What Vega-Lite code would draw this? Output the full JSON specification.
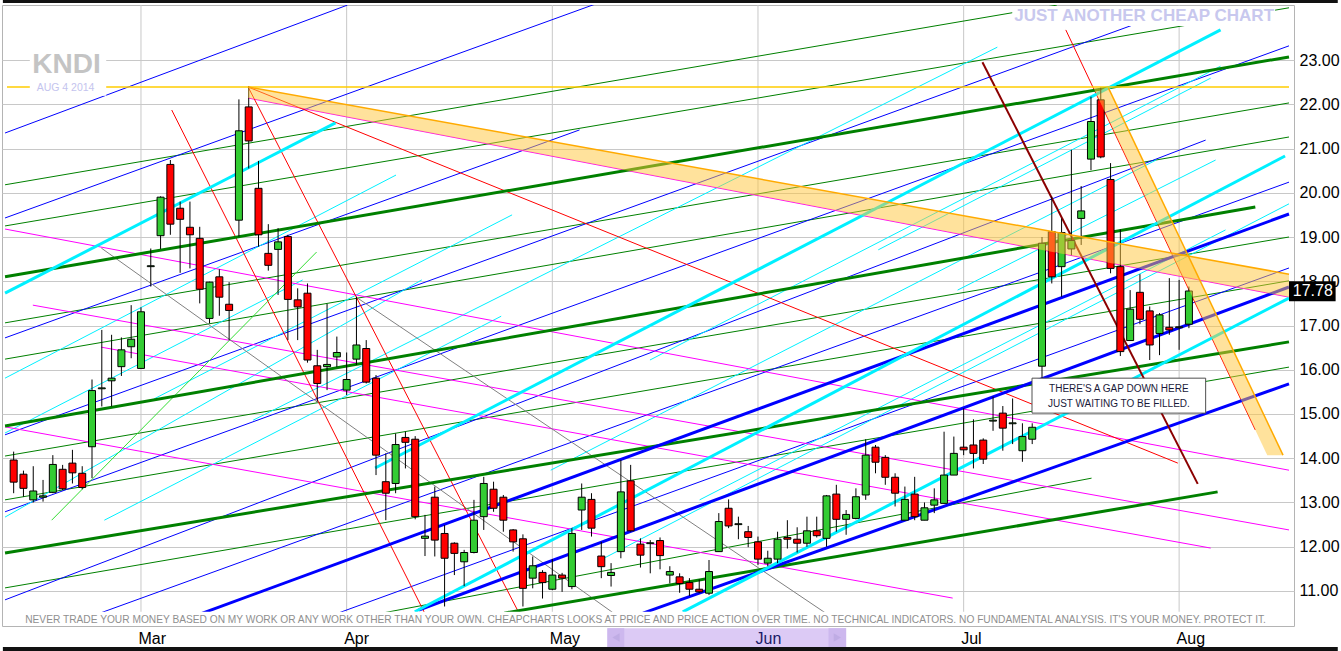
{
"$schema": "https://vega.github.io/schema/vega-lite/v6.json",
"width": 1292, "height": 621,
"autosize": {"type": "none"},
"padding": {"left": 2, "top": 5, "right": 47, "bottom": 25},
"background": "white",
"config": {"view": {"stroke": "#b4b4b4"}, "font": "Liberation Sans"},
"datasets": {
"candles": [
{"i":0,"o":13.96,"h":14.15,"l":13.21,"c":13.46},{"i":1,"o":13.64,"h":13.72,"l":13.13,"c":13.32},{"i":2,"o":13.06,"h":13.82,"l":13.0,"c":13.26},{"i":3,"o":13.12,"h":13.51,"l":13.02,"c":13.15},{"i":4,"o":13.23,"h":14.07,"l":13.21,"c":13.86},{"i":5,"o":13.75,"h":13.85,"l":13.28,"c":13.31},{"i":6,"o":13.89,"h":14.19,"l":13.43,"c":13.67},{"i":7,"o":13.66,"h":13.82,"l":13.3,"c":13.34},{"i":8,"o":14.26,"h":15.78,"l":13.55,"c":15.53},{"i":9,"o":15.57,"h":16.9,"l":15.17,"c":15.59},
{"i":10,"o":15.75,"h":16.79,"l":15.17,"c":15.81},{"i":11,"o":16.07,"h":16.73,"l":15.86,"c":16.45},{"i":12,"o":16.52,"h":17.46,"l":16.26,"c":16.69},{"i":13,"o":16.03,"h":17.41,"l":16.03,"c":17.31},{"i":14,"o":18.33,"h":18.74,"l":17.88,"c":18.35},{"i":15,"o":19.03,"h":19.92,"l":18.73,"c":19.9},{"i":16,"o":20.64,"h":20.74,"l":19.05,"c":19.29},{"i":17,"o":19.65,"h":19.8,"l":18.19,"c":19.4},{"i":18,"o":19.22,"h":19.8,"l":18.29,"c":19.05},{"i":19,"o":18.97,"h":19.23,"l":17.5,"c":17.82},
{"i":20,"o":17.16,"h":17.99,"l":17.05,"c":17.98},{"i":21,"o":18.1,"h":18.27,"l":17.22,"c":17.64},{"i":22,"o":17.48,"h":17.98,"l":16.67,"c":17.34},{"i":23,"o":19.38,"h":22.11,"l":19.01,"c":21.4},{"i":24,"o":21.94,"h":22.4,"l":20.55,"c":21.17},{"i":25,"o":20.1,"h":20.72,"l":18.78,"c":19.05},{"i":26,"o":18.63,"h":19.29,"l":18.24,"c":18.36},{"i":27,"o":18.72,"h":19.2,"l":17.69,"c":18.89},{"i":28,"o":19.01,"h":19.05,"l":16.67,"c":17.59},{"i":29,"o":17.58,"h":17.84,"l":16.67,"c":17.42},
{"i":30,"o":17.73,"h":17.95,"l":16.16,"c":16.22},{"i":31,"o":16.09,"h":16.45,"l":15.28,"c":15.69},{"i":32,"o":16.07,"h":17.49,"l":15.54,"c":16.12},{"i":33,"o":16.29,"h":16.75,"l":16.06,"c":16.39},{"i":34,"o":15.54,"h":16.39,"l":15.43,"c":15.78},{"i":35,"o":16.24,"h":17.65,"l":16.11,"c":16.56},{"i":36,"o":16.48,"h":16.67,"l":15.69,"c":15.72},{"i":37,"o":15.81,"h":15.88,"l":13.62,"c":14.07},{"i":38,"o":13.47,"h":14.11,"l":12.6,"c":13.21},{"i":39,"o":13.43,"h":14.56,"l":13.21,"c":14.31},
{"i":40,"o":14.47,"h":14.6,"l":13.77,"c":14.36},{"i":41,"o":14.43,"h":14.5,"l":12.62,"c":12.68},{"i":42,"o":12.19,"h":12.72,"l":11.79,"c":12.24},{"i":43,"o":13.12,"h":13.36,"l":11.78,"c":12.15},{"i":44,"o":12.3,"h":12.49,"l":10.65,"c":11.74},{"i":45,"o":12.08,"h":12.1,"l":11.36,"c":11.85},{"i":46,"o":11.66,"h":11.93,"l":11.11,"c":11.87},{"i":47,"o":11.87,"h":13.06,"l":11.85,"c":12.6},{"i":48,"o":12.68,"h":13.58,"l":12.38,"c":13.43},{"i":49,"o":13.3,"h":13.47,"l":12.79,"c":12.87},
{"i":50,"o":13.12,"h":13.17,"l":12.34,"c":12.6},{"i":51,"o":12.38,"h":12.4,"l":11.89,"c":12.11},{"i":52,"o":12.18,"h":12.28,"l":10.65,"c":11.06},{"i":53,"o":11.29,"h":11.78,"l":11.06,"c":11.57},{"i":54,"o":11.42,"h":11.47,"l":10.83,"c":11.19},{"i":55,"o":11.04,"h":11.72,"l":11.02,"c":11.36},{"i":56,"o":11.36,"h":11.41,"l":10.98,"c":11.29},{"i":57,"o":11.1,"h":12.42,"l":11.04,"c":12.3},{"i":58,"o":12.83,"h":13.43,"l":12.38,"c":13.12},{"i":59,"o":13.07,"h":13.21,"l":12.23,"c":12.42},
{"i":60,"o":11.79,"h":12.11,"l":11.29,"c":11.55},{"i":61,"o":11.35,"h":11.63,"l":11.1,"c":11.42},{"i":62,"o":11.89,"h":13.96,"l":11.74,"c":13.24},{"i":63,"o":13.49,"h":13.85,"l":12.34,"c":12.36},{"i":64,"o":12.06,"h":12.19,"l":11.53,"c":11.81},{"i":65,"o":12.07,"h":12.15,"l":11.4,"c":12.09},{"i":66,"o":12.14,"h":12.21,"l":11.49,"c":11.8},{"i":67,"o":11.36,"h":11.56,"l":11.17,"c":11.44},{"i":68,"o":11.32,"h":11.4,"l":10.96,"c":11.17},{"i":69,"o":11.19,"h":11.29,"l":10.89,"c":11.04},
{"i":70,"o":11.04,"h":11.26,"l":10.95,"c":10.98},{"i":71,"o":10.95,"h":11.7,"l":10.91,"c":11.44},{"i":72,"o":11.89,"h":12.76,"l":11.89,"c":12.57},{"i":73,"o":12.87,"h":13.07,"l":12.42,"c":12.47},{"i":74,"o":12.5,"h":12.68,"l":12.17,"c":12.52},{"i":75,"o":12.34,"h":12.47,"l":11.99,"c":12.21},{"i":76,"o":12.11,"h":12.23,"l":11.59,"c":11.72},{"i":77,"o":11.63,"h":11.91,"l":11.56,"c":11.74},{"i":78,"o":11.72,"h":12.34,"l":11.63,"c":12.17},{"i":79,"o":12.21,"h":12.6,"l":11.96,"c":12.17},
{"i":80,"o":12.17,"h":12.44,"l":11.87,"c":12.08},{"i":81,"o":12.08,"h":12.68,"l":12.0,"c":12.36},{"i":82,"o":12.36,"h":12.68,"l":12.21,"c":12.25},{"i":83,"o":12.19,"h":13.17,"l":12.0,"c":13.15},{"i":84,"o":13.19,"h":13.4,"l":12.34,"c":12.62},{"i":85,"o":12.62,"h":12.83,"l":12.27,"c":12.73},{"i":86,"o":12.64,"h":13.32,"l":12.62,"c":13.13},{"i":87,"o":13.17,"h":14.43,"l":13.06,"c":14.07},{"i":88,"o":14.25,"h":14.3,"l":13.66,"c":13.91},{"i":89,"o":14.02,"h":14.07,"l":13.4,"c":13.57},
{"i":90,"o":13.57,"h":13.66,"l":12.91,"c":13.21},{"i":91,"o":12.6,"h":13.36,"l":12.6,"c":13.07},{"i":92,"o":13.19,"h":13.58,"l":12.6,"c":12.68},{"i":93,"o":12.6,"h":13.0,"l":12.6,"c":12.88},{"i":94,"o":12.94,"h":13.32,"l":12.76,"c":13.06},{"i":95,"o":12.98,"h":14.6,"l":12.98,"c":13.62},{"i":96,"o":13.62,"h":14.49,"l":13.62,"c":14.11},{"i":97,"o":14.25,"h":15.13,"l":14.07,"c":14.19},{"i":98,"o":14.3,"h":14.88,"l":13.77,"c":14.11},{"i":99,"o":14.41,"h":14.45,"l":13.87,"c":13.98},
{"i":100,"o":14.84,"h":15.39,"l":14.62,"c":14.86},{"i":101,"o":15.02,"h":15.18,"l":14.17,"c":14.68},{"i":102,"o":14.78,"h":15.35,"l":14.32,"c":14.8},{"i":103,"o":14.17,"h":14.79,"l":13.92,"c":14.49},{"i":104,"o":14.43,"h":14.79,"l":14.32,"c":14.7},{"i":105,"o":16.08,"h":19.0,"l":15.81,"c":18.86},{"i":106,"o":19.12,"h":19.91,"l":17.95,"c":18.1},{"i":107,"o":18.33,"h":19.42,"l":17.65,"c":19.1},{"i":108,"o":18.73,"h":20.97,"l":18.59,"c":18.92},{"i":109,"o":19.42,"h":20.15,"l":18.82,"c":19.59},
{"i":110,"o":20.76,"h":22.17,"l":20.51,"c":21.61},{"i":111,"o":22.1,"h":22.37,"l":20.78,"c":20.81},{"i":112,"o":20.3,"h":20.67,"l":18.18,"c":18.29},{"i":113,"o":18.33,"h":19.17,"l":16.31,"c":16.41},{"i":114,"o":16.66,"h":17.8,"l":16.66,"c":17.37},{"i":115,"o":17.75,"h":18.16,"l":17.03,"c":17.14},{"i":116,"o":17.33,"h":17.43,"l":16.22,"c":16.56},{"i":117,"o":16.82,"h":17.28,"l":16.33,"c":17.24},{"i":118,"o":16.96,"h":18.07,"l":16.79,"c":16.9},{"i":119,"o":16.95,"h":18.03,"l":16.45,"c":16.97},
{"i":120,"o":17.03,"h":17.88,"l":16.94,"c":17.78}
],
"months": [{"m":13},{"m":34},{"m":55},{"m":76},{"m":97},{"m":119}],
"thinGreen": [
{"x1":-0.88,"y1":20.18,"x2":106.51,"y2":24.24},{"x1":-0.88,"y1":19.25,"x2":130.22,"y2":24.18},{"x1":-0.88,"y1":17.06,"x2":130.22,"y2":22.03},{"x1":-0.88,"y1":16.24,"x2":130.22,"y2":21.26},{"x1":-0.88,"y1":14.05,"x2":130.22,"y2":19.0},{"x1":-0.88,"y1":13.06,"x2":130.22,"y2":18.01},{"x1":-0.88,"y1":11.07,"x2":130.22,"y2":16.06},{"x1":37.62,"y1":10.5,"x2":110.06,"y2":13.55}],
"thickGreen": [
{"x1":-0.88,"y1":18.1,"x2":130.22,"y2":23.07},{"x1":-0.88,"y1":14.73,"x2":126.78,"y2":19.68},{"x1":-0.88,"y1":11.86,"x2":130.22,"y2":16.63},{"x1":50.08,"y1":10.5,"x2":122.93,"y2":13.24}],
"thinBlue": [
{"x1":-0.88,"y1":21.35,"x2":34.07,"y2":24.24},{"x1":-0.88,"y1":19.43,"x2":59.71,"y2":24.29},{"x1":-0.88,"y1":16.72,"x2":57.78,"y2":21.42},{"x1":-0.88,"y1":14.53,"x2":115.63,"y2":23.9},{"x1":-0.88,"y1":12.79,"x2":130.22,"y2":23.32},{"x1":-0.88,"y1":10.8,"x2":121.71,"y2":21.19},{"x1":5.2,"y1":10.21,"x2":130.22,"y2":20.24},{"x1":29.51,"y1":10.21,"x2":130.22,"y2":18.3}],
"thickBlue": [
{"x1":15.73,"y1":10.21,"x2":130.22,"y2":19.52},{"x1":41.37,"y1":10.57,"x2":130.22,"y2":17.87},{"x1":64.26,"y1":10.5,"x2":130.22,"y2":15.68}],
"thinCyan": [
{"x1":-0.88,"y1":15.81,"x2":39.04,"y2":20.4},{"x1":-0.88,"y1":14.57,"x2":29.51,"y2":18.03},{"x1":14.32,"y1":15.34,"x2":50.89,"y2":19.5},{"x1":24.45,"y1":14.86,"x2":100.44,"y2":23.29},{"x1":59.91,"y1":11.7,"x2":130.22,"y2":19.75},{"x1":54.84,"y1":13.73,"x2":116.65,"y2":20.74},{"x1":70.04,"y1":13.06,"x2":123.74,"y2":19.16},{"x1":96.38,"y1":17.8,"x2":122.73,"y2":20.74},{"x1":-0.88,"y1":12.67,"x2":41.67,"y2":18.03},{"x1":9.26,"y1":12.6,"x2":49.78,"y2":17.21},{"x1":64.97,"y1":16.22,"x2":123.23,"y2":22.86},{"x1":88.28,"y1":18.71,"x2":122.22,"y2":22.59}],
"thickCyan": [
{"x1":-0.88,"y1":17.73,"x2":32.86,"y2":21.58},{"x1":40.96,"y1":10.53,"x2":129.82,"y2":20.83},{"x1":68.32,"y1":10.53,"x2":130.22,"y2":17.62},{"x1":36.91,"y1":13.78,"x2":123.23,"y2":23.68}],
"magenta": [
{"x1":-0.88,"y1":19.18,"x2":130.22,"y2":13.73},{"x1":1.96,"y1":17.46,"x2":130.22,"y2":12.38},{"x1":8.95,"y1":16.51,"x2":122.22,"y2":11.97},{"x1":-0.88,"y1":14.71,"x2":95.88,"y2":10.84},{"x1":23.94,"y1":22.14,"x2":130.22,"y2":17.64}],
"gray": [
{"x1":8.95,"y1":18.75,"x2":61.25,"y2":10.5},{"x1":34.98,"y1":17.64,"x2":82.91,"y2":10.5}],
"red": [
{"x1":16.14,"y1":21.87,"x2":41.97,"y2":10.5},{"x1":23.94,"y1":22.39,"x2":51.6,"y2":10.5},{"x1":23.94,"y1":22.39,"x2":118.87,"y2":13.89},{"x1":107.43,"y1":23.68,"x2":126.78,"y2":14.64}],
"maroon": [{"x1":98.92,"y1":22.95,"x2":120.9,"y2":13.42}],
"lime": [{"x1":3.88,"y1":12.6,"x2":30.93,"y2":18.66}],
"yellow": [{"x1":-0.68,"y1":22.39,"x2":130.22,"y2":22.39}],
"orangeEdge": [{"x1":23.94,"y1":22.39,"x2":130.22,"y2":18.16},{"x1":111.78,"y1":22.37,"x2":129.61,"y2":14.07}],
"bandA": [{"i":23.94,"top":22.39,"bot":22.14},{"i":130.22,"top":18.16,"bot":17.64}],
"bandB": [{"p":22.37,"left":110.26,"right":111.78},{"p":14.07,"left":128.0,"right":129.61}]
},
"layer": [
{"data":{"name":"months"},"mark":{"type":"rule","color":"#c8c8c8","strokeWidth":1},
 "encoding":{"x":{"field":"m","type":"quantitative","scale":{"domain":[-0.68,130.22],"nice":false,"zero":false},
  "axis":{"values":[13,34,55,76,97,119],"labelExpr":"datum.value == 13 ? 'Mar' : datum.value == 34 ? 'Apr' : datum.value == 55 ? 'May' : datum.value == 76 ? 'Jun' : datum.value == 97 ? 'Jul' : 'Aug'","title":null,"grid":false,"ticks":false,"tickSize":0,"domain":false,"labelAlign":"left","labelBaseline":"top","labelFontSize":16,"labelColor":{"condition":{"test":"datum.value == 76","value":"#1a1a66"},"value":"black"},"labelPadding":4,"labelOffset":-3,"labelFont":"Liberation Sans","zindex":1,"labelOverlap":false,"labelBound":false,"labelFlush":false}}}},
{"data":{"name":"thinGreen"},"mark":{"type":"rule","color":"#008000","strokeWidth":1,"clip":true},"encoding":{"x":{"field":"x1","type":"quantitative"},"y":{"field":"y1","type":"quantitative"},"x2":{"field":"x2"},"y2":{"field":"y2"}}},
{"data":{"name":"thinBlue"},"mark":{"type":"rule","color":"#0000FF","strokeWidth":1,"clip":true},"encoding":{"x":{"field":"x1","type":"quantitative"},"y":{"field":"y1","type":"quantitative"},"x2":{"field":"x2"},"y2":{"field":"y2"}}},
{"data":{"name":"thinCyan"},"mark":{"type":"rule","color":"#00F0FF","strokeWidth":1,"clip":true},"encoding":{"x":{"field":"x1","type":"quantitative"},"y":{"field":"y1","type":"quantitative"},"x2":{"field":"x2"},"y2":{"field":"y2"}}},
{"data":{"name":"magenta"},"mark":{"type":"rule","color":"#FF00FF","strokeWidth":1,"clip":true},"encoding":{"x":{"field":"x1","type":"quantitative"},"y":{"field":"y1","type":"quantitative"},"x2":{"field":"x2"},"y2":{"field":"y2"}}},
{"data":{"name":"gray"},"mark":{"type":"rule","color":"#808080","strokeWidth":1,"clip":true},"encoding":{"x":{"field":"x1","type":"quantitative"},"y":{"field":"y1","type":"quantitative"},"x2":{"field":"x2"},"y2":{"field":"y2"}}},
{"data":{"name":"red"},"mark":{"type":"rule","color":"#FF0000","strokeWidth":1,"clip":true},"encoding":{"x":{"field":"x1","type":"quantitative"},"y":{"field":"y1","type":"quantitative"},"x2":{"field":"x2"},"y2":{"field":"y2"}}},
{"data":{"name":"lime"},"mark":{"type":"rule","color":"#33DD33","strokeWidth":1,"clip":true},"encoding":{"x":{"field":"x1","type":"quantitative"},"y":{"field":"y1","type":"quantitative"},"x2":{"field":"x2"},"y2":{"field":"y2"}}},
{"data":{"name":"thickGreen"},"mark":{"type":"rule","color":"#008000","strokeWidth":3,"clip":true},"encoding":{"x":{"field":"x1","type":"quantitative"},"y":{"field":"y1","type":"quantitative"},"x2":{"field":"x2"},"y2":{"field":"y2"}}},
{"data":{"name":"thickBlue"},"mark":{"type":"rule","color":"#0000FF","strokeWidth":3,"clip":true},"encoding":{"x":{"field":"x1","type":"quantitative"},"y":{"field":"y1","type":"quantitative"},"x2":{"field":"x2"},"y2":{"field":"y2"}}},
{"data":{"name":"thickCyan"},"mark":{"type":"rule","color":"#00F0FF","strokeWidth":3,"clip":true},"encoding":{"x":{"field":"x1","type":"quantitative"},"y":{"field":"y1","type":"quantitative"},"x2":{"field":"x2"},"y2":{"field":"y2"}}},
{"data":{"name":"maroon"},"mark":{"type":"rule","color":"#8B0000","strokeWidth":2,"clip":true},"encoding":{"x":{"field":"x1","type":"quantitative"},"y":{"field":"y1","type":"quantitative"},"x2":{"field":"x2"},"y2":{"field":"y2"}}},
{"data":{"name":"yellow"},"mark":{"type":"rule","color":"#FFCC00","strokeWidth":1.5,"clip":true},"encoding":{"x":{"field":"x1","type":"quantitative"},"y":{"field":"y1","type":"quantitative"},"x2":{"field":"x2"},"y2":{"field":"y2"}}},
{"data":{"name":"candles"},"mark":{"type":"rule","color":"black","strokeWidth":1},
 "encoding":{"x":{"field":"i","type":"quantitative"},
  "y":{"field":"l","type":"quantitative","scale":{"domain":[10.209,24.243],"nice":false,"zero":false},
   "axis":{"orient":"right","values":[11,12,13,14,15,16,17,18,19,20,21,22,23],"format":".2f","title":null,"grid":true,"gridColor":"#c8c8c8","ticks":false,"tickSize":0,"domain":false,"labelFontSize":16,"labelColor":"black","labelPadding":5,"labelFont":"Liberation Sans","labelAlign":"left","labelBaseline":"middle","zindex":0,"labelOverlap":false,"labelFlush":false,"labelBound":false}},
  "y2":{"field":"h"}}},
{"data":{"name":"candles"},"mark":{"type":"bar","size":7,"stroke":"black","strokeWidth":1},
 "encoding":{"x":{"field":"i","type":"quantitative"},"y":{"field":"o","type":"quantitative"},"y2":{"field":"c"},
  "fill":{"condition":{"test":"datum.o > datum.c","value":"#FF0000"},"value":"#33CC33"}}},
{"data":{"name":"bandA"},"mark":{"type":"area","color":"#FFC53A","opacity":0.5,"clip":true},"encoding":{"x":{"field":"i","type":"quantitative"},"y":{"field":"top","type":"quantitative"},"y2":{"field":"bot"}}},
{"data":{"name":"bandB"},"mark":{"type":"area","orient":"horizontal","color":"#FFC53A","opacity":0.5,"clip":true},"encoding":{"y":{"field":"p","type":"quantitative"},"x":{"field":"left","type":"quantitative"},"x2":{"field":"right"}}},
{"data":{"name":"orangeEdge"},"mark":{"type":"rule","color":"#FFAA00","strokeWidth":1.5,"clip":true},"encoding":{"x":{"field":"x1","type":"quantitative"},"y":{"field":"y1","type":"quantitative"},"x2":{"field":"x2"},"y2":{"field":"y2"}}},
{"data":{"values":[{"a":1.65,"b":9.45,"t":23.27,"u":22.19},{"a":101.96,"b":128.8,"t":24.22,"u":23.77},{"a":1.14,"b":128.0,"t":10.53,"u":10.21}]},"mark":{"type":"rect","color":"white"},
 "encoding":{"x":{"field":"a","type":"quantitative"},"x2":{"field":"b"},"y":{"field":"t","type":"quantitative"},"y2":{"field":"u"}}},
{"data":{"values":[{"label":"KNDI"}]},"mark":{"type":"text","font":"Liberation Sans","fontSize":28,"fontWeight":"bold","color":"#c4c4c4","align":"center","baseline":"middle"},
 "encoding":{"x":{"datum":5.4,"type":"quantitative"},"y":{"datum":22.89,"type":"quantitative"},"text":{"field":"label"}}},
{"data":{"values":[{"label":"AUG 4 2014"}]},"mark":{"type":"text","font":"Liberation Sans","fontSize":10.5,"color":"#c4c4ee","align":"center","baseline":"middle"},
 "encoding":{"x":{"datum":5.3,"type":"quantitative"},"y":{"datum":22.37,"type":"quantitative"},"text":{"field":"label"}}},
{"data":{"values":[{"label":"JUST ANOTHER CHEAP CHART"}]},"mark":{"type":"text","font":"Liberation Sans","fontSize":17,"fontWeight":"bold","color":"#c8c8ee","align":"center","baseline":"middle"},
 "encoding":{"x":{"datum":115.43,"type":"quantitative"},"y":{"datum":23.99,"type":"quantitative"},"text":{"field":"label"}}},
{"data":{"values":[{"label":"NEVER TRADE YOUR MONEY BASED ON MY WORK OR ANY WORK OTHER THAN YOUR OWN. CHEAPCHARTS LOOKS AT PRICE AND PRICE ACTION OVER TIME. NO TECHNICAL INDICATORS. NO FUNDAMENTAL ANALYSIS. IT'S YOUR MONEY. PROTECT IT."}]},"mark":{"type":"text","font":"Liberation Sans","fontSize":10.2,"color":"#8f8f8f","align":"center","baseline":"middle"},
 "encoding":{"x":{"datum":64.52,"type":"quantitative"},"y":{"datum":10.345,"type":"quantitative"},"text":{"field":"label"}}},
{"data":{"values":[{"a":103.98,"b":121.71,"t":15.81,"u":15.02}]},"mark":{"type":"rect","fill":"white","stroke":"#505050","strokeWidth":1},
 "encoding":{"x":{"field":"a","type":"quantitative"},"x2":{"field":"b"},"y":{"field":"t","type":"quantitative"},"y2":{"field":"u"}}},
{"data":{"values":[{"label":"THERE'S A GAP DOWN HERE","p":15.57},{"label":"JUST WAITING TO BE FILLED.","p":15.23}]},"mark":{"type":"text","font":"Liberation Sans","fontSize":10,"color":"#1a1a3a","align":"center","baseline":"middle"},
 "encoding":{"x":{"datum":112.85,"type":"quantitative"},"y":{"field":"p","type":"quantitative"},"text":{"field":"label"}}},
{"data":{"values":[{"a":60.62,"b":85.0,"t":10.16,"u":9.73}]},"mark":{"type":"rect","color":"#DCCAF5"},
 "encoding":{"x":{"field":"a","type":"quantitative"},"x2":{"field":"b"},"y":{"field":"t","type":"quantitative"},"y2":{"field":"u"}}},
{"data":{"values":[{"a":60.62,"b":62.35,"t":10.16,"u":9.73},{"a":83.2,"b":85.0,"t":10.16,"u":9.73}]},"mark":{"type":"rect","color":"#CDB8EE"},
 "encoding":{"x":{"field":"a","type":"quantitative"},"x2":{"field":"b"},"y":{"field":"t","type":"quantitative"},"y2":{"field":"u"}}},
{"data":{"values":[{"s":"triangle-left","x":61.5},{"s":"triangle-right","x":84.1}]},"mark":{"type":"point","filled":true,"color":"#B9A6E0","size":70},
 "encoding":{"x":{"field":"x","type":"quantitative"},"y":{"datum":9.95,"type":"quantitative"},"shape":{"field":"s","type":"nominal","scale":null,"legend":null}}},
{"data":{"values":[{"a":-1.1,"b":135.2,"t":24.36,"u":24.29},{"a":-1.1,"b":135.2,"t":9.735,"u":9.6}]},"mark":{"type":"rect","color":"#111111"},
 "encoding":{"x":{"field":"a","type":"quantitative"},"x2":{"field":"b"},"y":{"field":"t","type":"quantitative"},"y2":{"field":"u"}}},
{"data":{"name":"candles"},"transform":[{"filter":"datum.i == 120"}],"mark":{"type":"rect","color":"black"},
 "encoding":{"x":{"datum":130.22,"type":"quantitative"},"x2":{"datum":134.98},"y":{"datum":18.0,"type":"quantitative"},"y2":{"datum":17.55}}},
{"data":{"name":"candles"},"transform":[{"filter":"datum.i == 120"}],"mark":{"type":"text","font":"Liberation Sans","fontSize":16,"color":"white","align":"center","baseline":"middle"},
 "encoding":{"x":{"datum":132.65,"type":"quantitative"},"y":{"field":"c","type":"quantitative"},"text":{"field":"c","format":".2f"}}}
]
}
